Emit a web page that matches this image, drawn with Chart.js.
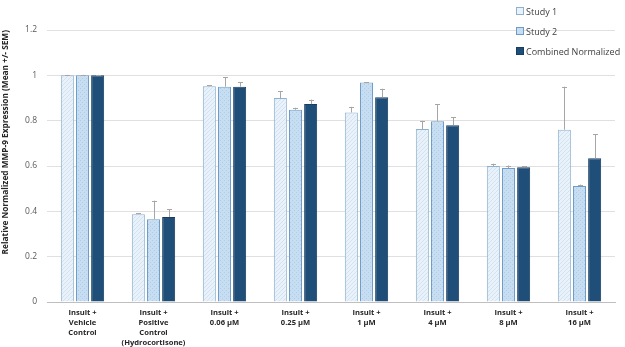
<!DOCTYPE html>
<html>
<head>
<meta charset="utf-8">
<script src="https://cdn.jsdelivr.net/npm/chart.js@4.4.0/dist/chart.umd.min.js"></script>
<style>
  body { margin: 0; background: #fff; }
  #wrap { position: relative; width: 625px; height: 347px; }
  #legend { position: absolute; left: 516px; top: 5px; font-family: "Open Sans", sans-serif; font-size: 9px; color: #404040; }
  #legend div { height: 20px; line-height: 14px; white-space: nowrap; }
  #legend span { display: inline-block; width: 6px; height: 6px; margin-right: 2px; vertical-align: 0px; }
</style>
</head>
<body>
<div id="wrap">
  <canvas id="myChart" width="625" height="347"></canvas>
  <div id="legend"></div>
</div>
<script>
var categories = [
  ["Insult +", "Vehicle", "Control"],
  ["Insult +", "Positive", "Control", "(Hydrocortisone)"],
  ["Insult +", "0.06 µM"],
  ["Insult +", "0.25 µM"],
  ["Insult +", "1 µM"],
  ["Insult +", "4 µM"],
  ["Insult +", "8 µM"],
  ["Insult +", "16 µM"]
]
var study1 = [1, 0.387, 0.952, 0.90, 0.836, 0.763, 0.600, 0.760]
var study1Err = [0.002, 0.004, 0.004, 0.03, 0.025, 0.036, 0.01, 0.19]
var study2 = [1, 0.365, 0.950, 0.848, 0.968, 0.797, 0.591, 0.512]
var study2Err = [0.002, 0.082, 0.042, 0.009, 0.002, 0.076, 0.011, 0.006]
var combined = [1, 0.375, 0.950, 0.873, 0.903, 0.780, 0.594, 0.634]
var combinedErr = [0.002, 0.035, 0.019, 0.02, 0.038, 0.036, 0.005, 0.106]
var yTicks = [0, 0.2, 0.4, 0.6, 0.8, 1, 1.2]

function makePattern(bg, fg, kind){
  var c = document.createElement("canvas")
  c.width = 4; c.height = 4
  var x = c.getContext("2d")
  x.fillStyle = bg
  x.fillRect(0,0,4,4)
  x.fillStyle = fg
  if(kind == "diag"){
    x.fillRect(0,3,1,1); x.fillRect(1,2,1,1); x.fillRect(2,1,1,1); x.fillRect(3,0,1,1)
  } else {
    x.fillRect(0,0,1,1); x.fillRect(2,2,1,1)
  }
  return x.createPattern(c, "repeat")
}

var errs = [study1Err, study2Err, combinedErr]

var errorBars = {
  id: "errorBars",
  afterDatasetsDraw: function(chart){
    var ctx = chart.ctx
    var y = chart.scales.y
    ctx.save()
    ctx.strokeStyle = "#a6a6a6"
    ctx.lineWidth = 1
    chart.data.datasets.forEach(function(ds, i){
      var meta = chart.getDatasetMeta(i)
      meta.data.forEach(function(bar, j){
        var top = y.getPixelForValue(ds.data[j])
        var end = y.getPixelForValue(ds.data[j] + errs[i][j])
        var x = Math.round(bar.x) + 0.5
        ctx.beginPath()
        ctx.moveTo(x, top)
        ctx.lineTo(x, end)
        ctx.moveTo(x - 2.5, Math.round(end) + 0.5)
        ctx.lineTo(x + 2.5, Math.round(end) + 0.5)
        ctx.stroke()
      })
    })
    ctx.restore()
  }
}

var colors = [
  {fill: makePattern("#e9f2fa", "#d3e2ef", "diag"), border: "#8eb1cf", key: "#e9f2fa"},
  {fill: makePattern("#c7ddf1", "#b1cde6", "dot"), border: "#6f9cc6", key: "#c7ddf1"},
  {fill: "#1f4e79", border: "#173d60", key: "#1f4e79"}
]
var names = ["Study 1", "Study 2", "Combined Normalized"]
var series = [study1, study2, combined]

var datasets = []
for(var i=0;i<3;i++){
  datasets.push({
    label: names[i],
    data: series[i],
    backgroundColor: colors[i].fill,
    borderColor: colors[i].border,
    borderWidth: 1,
    categoryPercentage: 0.64,
    barPercentage: 0.86
  })
}

var txt = ""
for(var i=0;i<3;i++){
  txt += '<div><span style="background:' + colors[i].key + ';border:1px solid ' + colors[i].border + '"></span>' + names[i] + '</div>'
}
document.getElementById("legend").innerHTML = txt

var chart = new Chart(document.getElementById("myChart"), {
  type: "bar",
  data: { labels: categories, datasets: datasets },
  plugins: [errorBars],
  options: {
    responsive: false,
    animation: false,
    layout: { padding: { top: 30, right: 10, left: 1, bottom: 0 } },
    plugins: { legend: { display: false }, tooltip: { enabled: false } },
    scales: {
      x: {
        afterFit: function(axis){ axis.height = 45 },
        grid: { display: false, drawTicks: false },
        border: { color: "#bfbfbf" },
        ticks: {
          color: "#262626",
          padding: 6,
          maxRotation: 0,
          autoSkip: false,
          font: { family: "'Open Sans', sans-serif", size: 7.6, weight: "bold", lineHeight: 1.32 }
        }
      },
      y: {
        min: 0,
        max: 1.2,
        afterFit: function(axis){ axis.width = 46 },
        afterBuildTicks: function(axis){
          axis.ticks = yTicks.map(function(v){ return {value: v} })
        },
        grid: { color: "#e0e0e0", drawTicks: false },
        border: { display: false },
        ticks: {
          color: "#595959",
          padding: 10,
          font: { family: "'Open Sans', sans-serif", size: 8.5 },
          callback: function(v){ return String(Math.round(v * 10) / 10) }
        },
        title: {
          display: true,
          align: "end",
          text: "Relative Normalized MMP-9 Expression (Mean +/- SEM)",
          color: "#262626",
          padding: { top: 0, bottom: 4 },
          font: { family: "'Open Sans', sans-serif", size: 8.3, weight: "bold" }
        }
      }
    }
  }
})
</script>
</body>
</html>
